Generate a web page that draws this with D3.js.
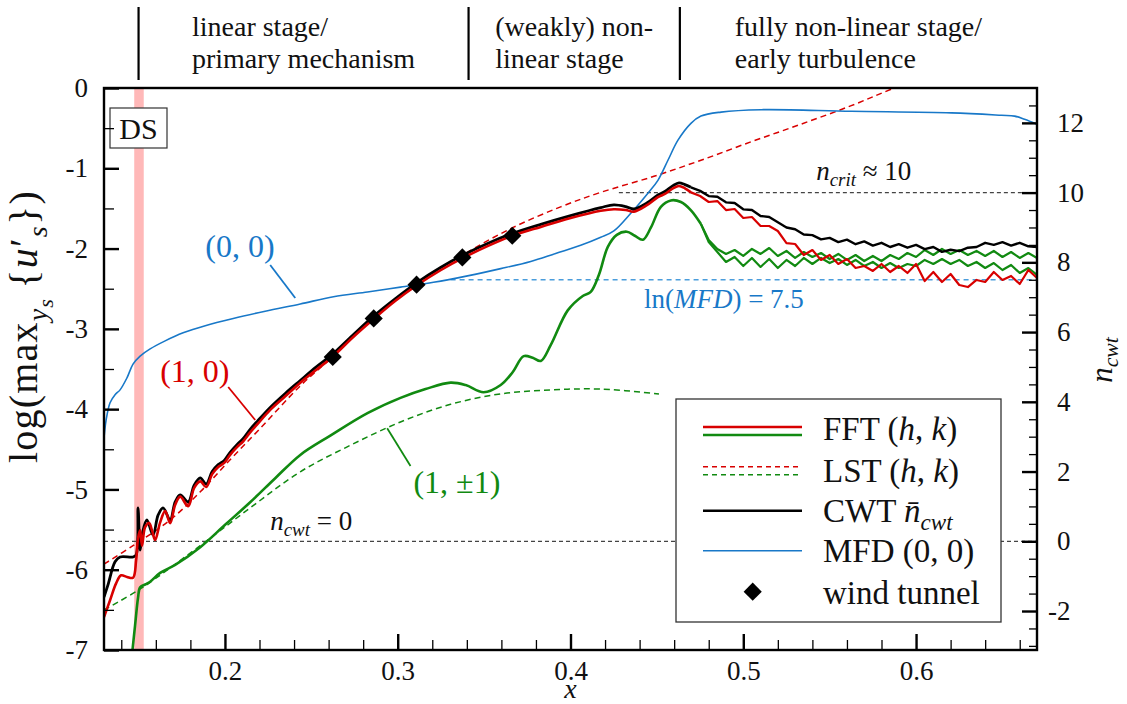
<!DOCTYPE html>
<html>
<head>
<meta charset="utf-8">
<script src="https://cdn.jsdelivr.net/npm/d3@7"></script>
<style>
  body { margin: 0; background: #fff; }
  svg text, svg tspan { font-family: "Liberation Serif", "Times New Roman", Tinos, "DejaVu Serif", "Noto Serif", FreeSerif, serif !important; fill: #111; white-space: pre; }
</style>
</head>
<body>
<script>
// ---- data (x, log10 value) unless noted ----
var redFFT = [[0.1300,-6.59],[0.1335,-6.38],[0.1370,-6.17],[0.1399,-6.07],[0.1433,-6.09],[0.1468,-6.10],[0.1486,-5.88],[0.1497,-5.61],[0.1509,-5.51],[0.1520,-5.70],[0.1538,-5.47],[0.1561,-5.42],[0.1578,-5.51],[0.1596,-5.63],[0.1625,-5.41],[0.1654,-5.27],[0.1683,-5.42],[0.1712,-5.19],[0.1741,-5.09],[0.1787,-5.21],[0.1822,-4.98],[0.1857,-4.90],[0.1891,-4.97],[0.1926,-4.81],[0.1961,-4.72],[0.1996,-4.67],[0.2030,-4.57],[0.2071,-4.47],[0.2106,-4.40],[0.2146,-4.29],[0.2187,-4.19],[0.2262,-4.01],[0.2349,-3.84],[0.2436,-3.67],[0.2529,-3.51],[0.2622,-3.35],[0.2738,-3.11],[0.2859,-2.88],[0.2987,-2.65],[0.3109,-2.46],[0.3248,-2.27],[0.3375,-2.12],[0.3520,-1.97],[0.3665,-1.84],[0.3828,-1.73],[0.4001,-1.62],[0.4175,-1.53],[0.4251,-1.51],[0.4320,-1.52],[0.4367,-1.54],[0.4442,-1.46],[0.4506,-1.36],[0.4546,-1.32],[0.4593,-1.25],[0.4628,-1.22],[0.4662,-1.25],[0.4697,-1.30]];
var redFFTturb = [[0.475,-1.345],[0.480,-1.420],[0.485,-1.408],[0.490,-1.520],[0.495,-1.507],[0.500,-1.619],[0.505,-1.607],[0.510,-1.719],[0.515,-1.719],[0.520,-1.781],[0.525,-1.931],[0.530,-1.943],[0.535,-2.080],[0.540,-2.018],[0.545,-2.142],[0.550,-2.080],[0.555,-2.192],[0.560,-2.130],[0.565,-2.242],[0.570,-2.217],[0.575,-2.279],[0.580,-2.192],[0.585,-2.292],[0.590,-2.217],[0.595,-2.304],[0.600,-2.192],[0.605,-2.404],[0.610,-2.292],[0.615,-2.416],[0.620,-2.317],[0.625,-2.454],[0.630,-2.479],[0.635,-2.391],[0.640,-2.416],[0.645,-2.292],[0.650,-2.391],[0.655,-2.341],[0.660,-2.441],[0.665,-2.267],[0.670,-2.366]];

// CWT mean n_cwt (right axis)
var cwt = [[0.1300,-1.60],[0.1323,-1.25],[0.1364,-0.59],[0.1393,-0.45],[0.1468,-0.45],[0.1486,-0.39],[0.1497,0.96],[0.1509,-0.25],[0.1520,0.18],[0.1548,0.61],[0.1584,0.18],[0.1613,0.75],[0.1642,0.96],[0.1683,0.61],[0.1712,1.13],[0.1741,1.33],[0.1787,1.13],[0.1822,1.61],[0.1857,1.82],[0.1891,1.64],[0.1926,2.00],[0.1961,2.20],[0.1996,2.32],[0.2030,2.55],[0.2071,2.78],[0.2106,2.95],[0.2146,3.21],[0.2187,3.44],[0.2262,3.84],[0.2349,4.24],[0.2436,4.61],[0.2529,5.00],[0.2622,5.36],[0.2738,5.90],[0.2859,6.45],[0.2987,6.96],[0.3109,7.41],[0.3248,7.85],[0.3375,8.20],[0.3520,8.54],[0.3665,8.83],[0.3828,9.09],[0.4001,9.34],[0.4175,9.57],[0.4251,9.65],[0.4320,9.60],[0.4367,9.53],[0.4442,9.70],[0.4506,9.93],[0.4546,10.03],[0.4593,10.20],[0.4628,10.28],[0.4662,10.23],[0.4697,10.15]];
var cwtTurb = [[0.475,10.05],[0.480,9.90],[0.485,9.88],[0.490,9.72],[0.495,9.70],[0.500,9.52],[0.505,9.50],[0.510,9.33],[0.515,9.30],[0.520,9.15],[0.525,9.00],[0.530,8.95],[0.535,8.80],[0.540,8.78],[0.545,8.66],[0.550,8.70],[0.555,8.58],[0.560,8.65],[0.565,8.52],[0.570,8.60],[0.575,8.48],[0.580,8.56],[0.585,8.44],[0.590,8.52],[0.595,8.42],[0.600,8.50],[0.605,8.38],[0.610,8.44],[0.615,8.30],[0.620,8.36],[0.625,8.32],[0.630,8.42],[0.635,8.44],[0.640,8.56],[0.645,8.50],[0.650,8.58],[0.655,8.48],[0.660,8.56],[0.665,8.46],[0.670,8.44]];

var greenFFT = [[0.1462,-7.06],[0.1480,-6.69],[0.1497,-6.35],[0.1509,-6.22],[0.1543,-6.18],[0.1567,-6.15],[0.1625,-6.04],[0.1712,-5.94],[0.1857,-5.72],[0.2001,-5.44],[0.2146,-5.16],[0.2291,-4.86],[0.2436,-4.57],[0.2610,-4.33],[0.2825,-4.05],[0.3016,-3.86],[0.3161,-3.75],[0.3306,-3.67],[0.3393,-3.70],[0.3497,-3.79],[0.3596,-3.70],[0.3665,-3.54],[0.3729,-3.34],[0.3781,-3.36],[0.3828,-3.40],[0.3886,-3.20],[0.3984,-2.77],[0.4071,-2.59],[0.4117,-2.54],[0.4164,-2.33],[0.4216,-1.98],[0.4268,-1.83],[0.4326,-1.79],[0.4372,-1.84],[0.4419,-1.89],[0.4465,-1.74],[0.4523,-1.48],[0.4581,-1.40],[0.4639,-1.42],[0.4696,-1.52],[0.4754,-1.69]];
var greenUpper = [[0.480,-1.893],[0.485,-2.005],[0.490,-2.067],[0.495,-2.018],[0.500,-2.092],[0.505,-2.005],[0.510,-2.067],[0.515,-1.993],[0.520,-2.092],[0.525,-2.030],[0.530,-2.117],[0.535,-2.043],[0.540,-2.105],[0.545,-2.055],[0.550,-2.130],[0.555,-2.067],[0.560,-2.142],[0.565,-2.080],[0.570,-2.155],[0.575,-2.092],[0.580,-2.155],[0.585,-2.080],[0.590,-2.130],[0.595,-2.055],[0.600,-2.105],[0.605,-2.018],[0.610,-2.080],[0.615,-2.005],[0.620,-2.067],[0.625,-2.018],[0.630,-2.080],[0.635,-2.030],[0.640,-2.092],[0.645,-2.030],[0.650,-2.105],[0.655,-2.043],[0.660,-2.117],[0.665,-2.055],[0.670,-2.117]];
var greenLower = [[0.480,-1.918],[0.485,-2.043],[0.490,-2.167],[0.495,-2.105],[0.500,-2.217],[0.505,-2.117],[0.510,-2.229],[0.515,-2.130],[0.520,-2.242],[0.525,-2.142],[0.530,-2.217],[0.535,-2.117],[0.540,-2.192],[0.545,-2.117],[0.550,-2.180],[0.555,-2.130],[0.560,-2.204],[0.565,-2.142],[0.570,-2.217],[0.575,-2.167],[0.580,-2.242],[0.585,-2.180],[0.590,-2.242],[0.595,-2.192],[0.600,-2.217],[0.605,-2.142],[0.610,-2.192],[0.615,-2.130],[0.620,-2.192],[0.625,-2.142],[0.630,-2.217],[0.635,-2.167],[0.640,-2.242],[0.645,-2.180],[0.650,-2.267],[0.655,-2.204],[0.660,-2.304],[0.665,-2.242],[0.670,-2.329]];

var redLST = [[0.1300,-5.93],[0.1468,-5.70],[0.1683,-5.38],[0.1857,-5.03],[0.2030,-4.63],[0.2204,-4.24],[0.2436,-3.71],[0.2622,-3.35],[0.2859,-2.87],[0.3109,-2.44],[0.3375,-2.08],[0.3665,-1.74],[0.3943,-1.48],[0.4175,-1.30],[0.4483,-1.10],[0.4755,-0.90],[0.5045,-0.67],[0.5335,-0.45],[0.5625,-0.22],[0.5874,0.00],[0.6204,0.27]];
var greenLST = [[0.1300,-6.50],[0.1509,-6.24],[0.1857,-5.70],[0.2146,-5.23],[0.2436,-4.78],[0.2726,-4.45],[0.3016,-4.16],[0.3306,-3.94],[0.3596,-3.81],[0.3886,-3.76],[0.4175,-3.75],[0.4512,-3.81]];

var mfd = [[0.1300,-4.36],[0.1312,-4.14],[0.1335,-3.92],[0.1364,-3.82],[0.1393,-3.76],[0.1433,-3.61],[0.1468,-3.44],[0.1509,-3.34],[0.1567,-3.25],[0.1654,-3.15],[0.1758,-3.05],[0.1886,-2.96],[0.2048,-2.87],[0.2233,-2.78],[0.2436,-2.69],[0.2628,-2.60],[0.2825,-2.54],[0.3016,-2.48],[0.3207,-2.42],[0.3404,-2.34],[0.3596,-2.25],[0.3770,-2.16],[0.3914,-2.06],[0.4059,-1.96],[0.4175,-1.86],[0.4251,-1.78],[0.4349,-1.56],[0.4448,-1.31],[0.4506,-1.15],[0.4564,-0.90],[0.4622,-0.65],[0.4697,-0.44],[0.4755,-0.35],[0.4871,-0.30],[0.5103,-0.27],[0.5625,-0.29],[0.6204,-0.31],[0.6494,-0.34],[0.6570,-0.35],[0.6628,-0.39],[0.6709,-0.46]];

var windTunnel = [[0.2624,-3.35],[0.2861,-2.87],[0.3109,-2.45],[0.3374,-2.11],[0.3663,-1.84]];

var xMajor = [0.2, 0.3, 0.4, 0.5, 0.6];
var xMinor = [0.14,0.16,0.18,0.22,0.24,0.26,0.28,0.32,0.34,0.36,0.38,0.42,0.44,0.46,0.48,0.52,0.54,0.56,0.58,0.62,0.64,0.66];
var yMajor = [0,-1,-2,-3,-4,-5,-6,-7];
var yMinor = [-0.5,-1.5,-2.5,-3.5,-4.5,-5.5,-6.5];
var nMajor = [-2,0,2,4,6,8,10,12];
var nMinor = [-3,-2.5,-1.5,-1,-0.5,0.5,1,1.5,2.5,3,3.5,4.5,5,5.5,6.5,7,7.5,8.5,9,9.5,10.5,11,11.5,12.5];

var stageBounds = [0.15, 0.341, 0.4633, 0.67];
var stageText = [["linear stage/", "primary mechanism"], ["(weakly) non-", "linear stage"], ["fully non-linear stage/", "early turbulence"]];
var dsBand = [0.1475, 0.153];
var nZero = 0, nCrit = 10, mfdLevel = 7.5;

var RED = "#d80000", GREEN = "#118a11", BLUE = "#1878c8";
var SERIF = "'Liberation Serif', 'Times New Roman', Tinos, 'DejaVu Serif', 'Noto Serif', FreeSerif, serif";

// ---- layout ----
var margin = {top: 88, right: 90, bottom: 54, left: 104},
    width = 1127 - margin.left - margin.right,
    height = 704 - margin.top - margin.bottom;

var x = d3.scaleLinear().domain([0.13, 0.67]).range([0, width]);
var y = d3.scaleLinear().domain([-7, 0]).range([height, 0]);
var yR = d3.scaleLinear().domain([13 - 7 * Math.LN10, 13]).range([height, 0]);

var svg = d3.select("body").append("svg")
    .attr("width", 1127).attr("height", 704)
    .attr("font-family", SERIF)
  .append("g")
    .attr("transform", "translate(" + margin.left + "," + margin.top + ")");

// math-ish text: parts = [text, italic, level]
function mathText(sel, parts, fs, subOff) {
  var off = {"-1": -0.38, "0": 0, "1": subOff || 0.24, "2": 0.40};
  var sc = {"-1": 0.7, "0": 1, "1": 0.7, "2": 0.55};
  var prev = 0;
  sel.style("font-family", SERIF);
  parts.forEach(function(p) {
    var lv = p[2] || 0;
    sel.append("tspan")
      .attr("dy", ((off[lv] - off[prev]) * fs) + "px")
      .style("font-size", (sc[lv] * fs) + "px")
      .style("font-style", p[1] ? "italic" : "normal")
      .text(p[0]);
    prev = lv;
  });
  return sel;
}

svg.append("defs").append("clipPath").attr("id", "clip")
  .append("rect").attr("width", width).attr("height", height);

// DS band
svg.append("rect")
    .attr("x", x(dsBand[0])).attr("width", x(dsBand[1]) - x(dsBand[0]))
    .attr("y", 0).attr("height", height)
    .attr("fill", "#ffb8b8");

var plot = svg.append("g").attr("clip-path", "url(#clip)");

var smooth = d3.line().x(function(d) { return x(d[0]); }).y(function(d) { return y(d[1]); })
    .curve(d3.curveCatmullRom.alpha(0.5));
var jag = d3.line().x(function(d) { return x(d[0]); }).y(function(d) { return y(d[1]); });
var smoothR = d3.line().x(function(d) { return x(d[0]); }).y(function(d) { return yR(d[1]); })
    .curve(d3.curveCatmullRom.alpha(0.5));
var jagR = d3.line().x(function(d) { return x(d[0]); }).y(function(d) { return yR(d[1]); });

function path(gen, data, color, w, dash) {
  plot.append("path").datum(data)
    .attr("d", gen)
    .attr("fill", "none")
    .attr("stroke", color)
    .attr("stroke-width", w)
    .attr("stroke-linejoin", "round")
    .attr("stroke-dasharray", dash || null);
}

// reference levels
plot.append("line").attr("x1", 0).attr("x2", width)
    .attr("y1", yR(nZero)).attr("y2", yR(nZero))
    .attr("stroke", "#444").attr("stroke-width", 1.2).attr("stroke-dasharray", "4,3");
plot.append("line").attr("x1", x(0.428)).attr("x2", width)
    .attr("y1", yR(nCrit)).attr("y2", yR(nCrit))
    .attr("stroke", "#444").attr("stroke-width", 1.2).attr("stroke-dasharray", "4,3");
plot.append("line").attr("x1", x(0.3306)).attr("x2", width)
    .attr("y1", yR(mfdLevel)).attr("y2", yR(mfdLevel))
    .attr("stroke", "#4a9ddc").attr("stroke-width", 1.5).attr("stroke-dasharray", "5,4");

// LST
path(smooth, redLST, RED, 1.5, "6,4");
path(smooth, greenLST, GREEN, 1.5, "6,4");

// MFD
path(smooth, mfd, BLUE, 1.6);

// green FFT (two modes)
path(smooth, greenFFT, GREEN, 2.6);
path(jag, [greenFFT[greenFFT.length - 1]].concat(greenUpper), GREEN, 2.2);
path(jag, [greenFFT[greenFFT.length - 1]].concat(greenLower), GREEN, 2.2);

// CWT black
path(smoothR, cwt, "#000", 2.8);
path(jagR, [cwt[cwt.length - 1]].concat(cwtTurb), "#000", 2.4);

// red FFT
path(smooth, redFFT, RED, 2.6);
path(jag, [redFFT[redFFT.length - 1]].concat(redFFTturb), RED, 2.2);

// wind tunnel
plot.selectAll(".wt").data(windTunnel).enter().append("path")
    .attr("d", d3.symbol(d3.symbolSquare, 165))
    .attr("transform", function(d) { return "translate(" + x(d[0]) + "," + y(d[1]) + ") rotate(45)"; })
    .attr("fill", "#000");

// curve labels with leader lines
var labels = [
  {parts: [["(0, 0)"]], color: BLUE, at: [0.1886, -2.105], line: [[0.2262, -2.204], [0.2407, -2.616]]},
  {parts: [["(1, 0)"]], color: RED, at: [0.1625, -3.662], line: [[0.2019, -3.724], [0.2175, -4.135]]},
  {parts: [["(1, ±1)"]], color: GREEN, at: [0.3091, -5.044], line: [[0.2939, -4.238], [0.3074, -4.708]]}
];
labels.forEach(function(l) {
  svg.append("line")
      .attr("x1", x(l.line[0][0])).attr("y1", y(l.line[0][1]))
      .attr("x2", x(l.line[1][0])).attr("y2", y(l.line[1][1]))
      .attr("stroke", l.color).attr("stroke-width", 1.8);
  mathText(svg.append("text").attr("x", x(l.at[0])).attr("y", y(l.at[1])), l.parts, 32)
      .selectAll("tspan").style("fill", l.color);
});

mathText(svg.append("text").attr("x", x(0.2262)).attr("y", y(-5.505)),
  [["n", 1], ["cwt", 1, 1], [" = 0", 0]], 27);
mathText(svg.append("text").attr("x", x(0.5422)).attr("y", y(-1.146)),
  [["n", 1], ["crit", 1, 1], [" ≈ 10", 0]], 27);
mathText(svg.append("text").attr("x", x(0.4425)).attr("y", y(-2.74)),
  [["ln(", 0], ["MFD", 1], [") = 7.5", 0]], 27)
  .selectAll("tspan").style("fill", BLUE);

// legend
var leg = svg.append("g").attr("transform", "translate(572,311)");
leg.append("rect").attr("width", 325).attr("height", 223)
    .attr("fill", "#fff").attr("stroke", "#333").attr("stroke-width", 1.3);
var legRows = [
  {lines: [[RED, 28, null, 2.6], [GREEN, 36, null, 2.6]], text: [["FFT (", 0], ["h", 1], [", ", 0], ["k", 1], [")", 0]], ty: 41},
  {lines: [[RED, 67.7, "5,4", 1.4], [GREEN, 75.7, "5,4", 1.4]], text: [["LST (", 0], ["h", 1], [", ", 0], ["k", 1], [")", 0]], ty: 82.7},
  {lines: [["#000", 111.7, null, 2.4]], text: [["CWT ", 0], ["n\u0304", 1], ["cwt", 1, 1]], ty: 122.7},
  {lines: [[BLUE, 151.7, null, 1.6]], text: [["MFD (0, 0)", 0]], ty: 162.7},
  {lines: [], text: [["wind tunnel", 0]], ty: 205}
];
legRows.forEach(function(r) {
  r.lines.forEach(function(l) {
    leg.append("line").attr("x1", 27).attr("x2", 126).attr("y1", l[1]).attr("y2", l[1])
        .attr("stroke", l[0]).attr("stroke-width", l[3]).attr("stroke-dasharray", l[2]);
  });
  mathText(leg.append("text").attr("x", 147).attr("y", r.ty), r.text, 33);
});
leg.append("path").attr("d", d3.symbol(d3.symbolSquare, 165))
    .attr("transform", "translate(76.7,192.7) rotate(45)").attr("fill", "#000");

// DS box
svg.append("rect").attr("x", 6).attr("y", 20).attr("width", 57).attr("height", 40)
    .attr("fill", "#fff").attr("stroke", "#333").attr("stroke-width", 1.2);
svg.append("text").attr("x", 34.5).attr("y", 51).attr("text-anchor", "middle")
    .style("font-family", SERIF).style("font-size", "30px").text("DS");

// axes
function styleAxis(g) {
  g.attr("font-family", SERIF);
  g.select(".domain").remove();
  g.selectAll(".tick line").attr("stroke", "#000");
  g.selectAll(".tick text").style("font-size", "27px").attr("fill", "#111")
      .style("font-family", SERIF);
}
svg.append("g").attr("transform", "translate(0," + height + ")")
    .call(d3.axisBottom(x).tickValues(xMinor).tickSize(-10).tickFormat(""))
    .call(styleAxis).selectAll(".tick line").attr("stroke-width", 1.3);
svg.append("g").attr("transform", "translate(0," + height + ")")
    .call(d3.axisBottom(x).tickValues(xMajor).tickSize(-16).tickPadding(11)
      .tickFormat(function(d) { return d.toFixed(1); }))
    .call(styleAxis).selectAll(".tick line").attr("stroke-width", 2.4);

svg.append("g")
    .call(d3.axisLeft(y).tickValues(yMinor).tickSize(-10).tickFormat(""))
    .call(styleAxis).selectAll(".tick line").attr("stroke-width", 1.3);
svg.append("g")
    .call(d3.axisLeft(y).tickValues(yMajor).tickSize(-15).tickPadding(16)
      .tickFormat(function(d) { return String(d); }))
    .call(styleAxis).selectAll(".tick line").attr("stroke-width", 2.4);

svg.append("g").attr("transform", "translate(" + width + ",0)")
    .call(d3.axisRight(yR).tickValues(nMinor).tickSize(-8).tickFormat(""))
    .call(styleAxis).selectAll(".tick line").attr("stroke-width", 1.3);
var rAx = svg.append("g").attr("transform", "translate(" + width + ",0)")
    .call(d3.axisRight(yR).tickValues(nMajor).tickSize(-15).tickPadding(20)
      .tickFormat(function(d) { return String(d); }))
    .call(styleAxis);
rAx.selectAll(".tick line").attr("stroke-width", 2.4);
rAx.selectAll(".tick text").attr("dx", function(d) { return d < 0 ? "-0.33em" : null; });

// frame
svg.append("rect").attr("width", width).attr("height", height)
    .attr("fill", "none").attr("stroke", "#000").attr("stroke-width", 2.4);

// axis titles
mathText(svg.append("text").attr("text-anchor", "start").style("letter-spacing", "1.2px")
    .attr("transform", "translate(" + (37 - margin.left) + "," + (463 - margin.top) + ") rotate(-90)"),
  [["log(max", 0], ["y", 1, 1], ["s", 1, 2], ["\u2009{", 0, 0], ["u", 1], ["′", 0], ["s", 1, 1], ["})", 0, 0]], 40);
mathText(svg.append("text").attr("text-anchor", "middle")
    .attr("transform", "translate(" + (1112 - margin.left) + "," + (360 - margin.top) + ") rotate(-90)"),
  [["n", 1], ["cwt", 1, 1]], 31, 0.18);
svg.append("text").attr("x", x(0.4)).attr("y", 698 - margin.top).attr("text-anchor", "middle")
    .style("font-family", SERIF).style("font-size", "28px").style("font-style", "italic").text("x");

// stage header
stageBounds.slice(0, 3).forEach(function(b) {
  svg.append("line").attr("x1", x(b)).attr("x2", x(b)).attr("y1", 7 - margin.top).attr("y2", 80 - margin.top)
      .attr("stroke", "#000").attr("stroke-width", 2.2);
});
stageText.forEach(function(lines, i) {
  var c = (x(stageBounds[i]) + x(stageBounds[i + 1])) / 2;
  var g = svg.append("g");
  var ts = lines.map(function(t, k) {
    return g.append("text").attr("y", (k === 0 ? 36 : 68) - margin.top)
        .style("font-family", SERIF).style("font-size", "28px").text(t);
  });
  var w = d3.max(ts, function(t) { return t.node().getComputedTextLength(); });
  ts.forEach(function(t) { t.attr("x", c - w / 2); });
});
</script>
</body>
</html>
